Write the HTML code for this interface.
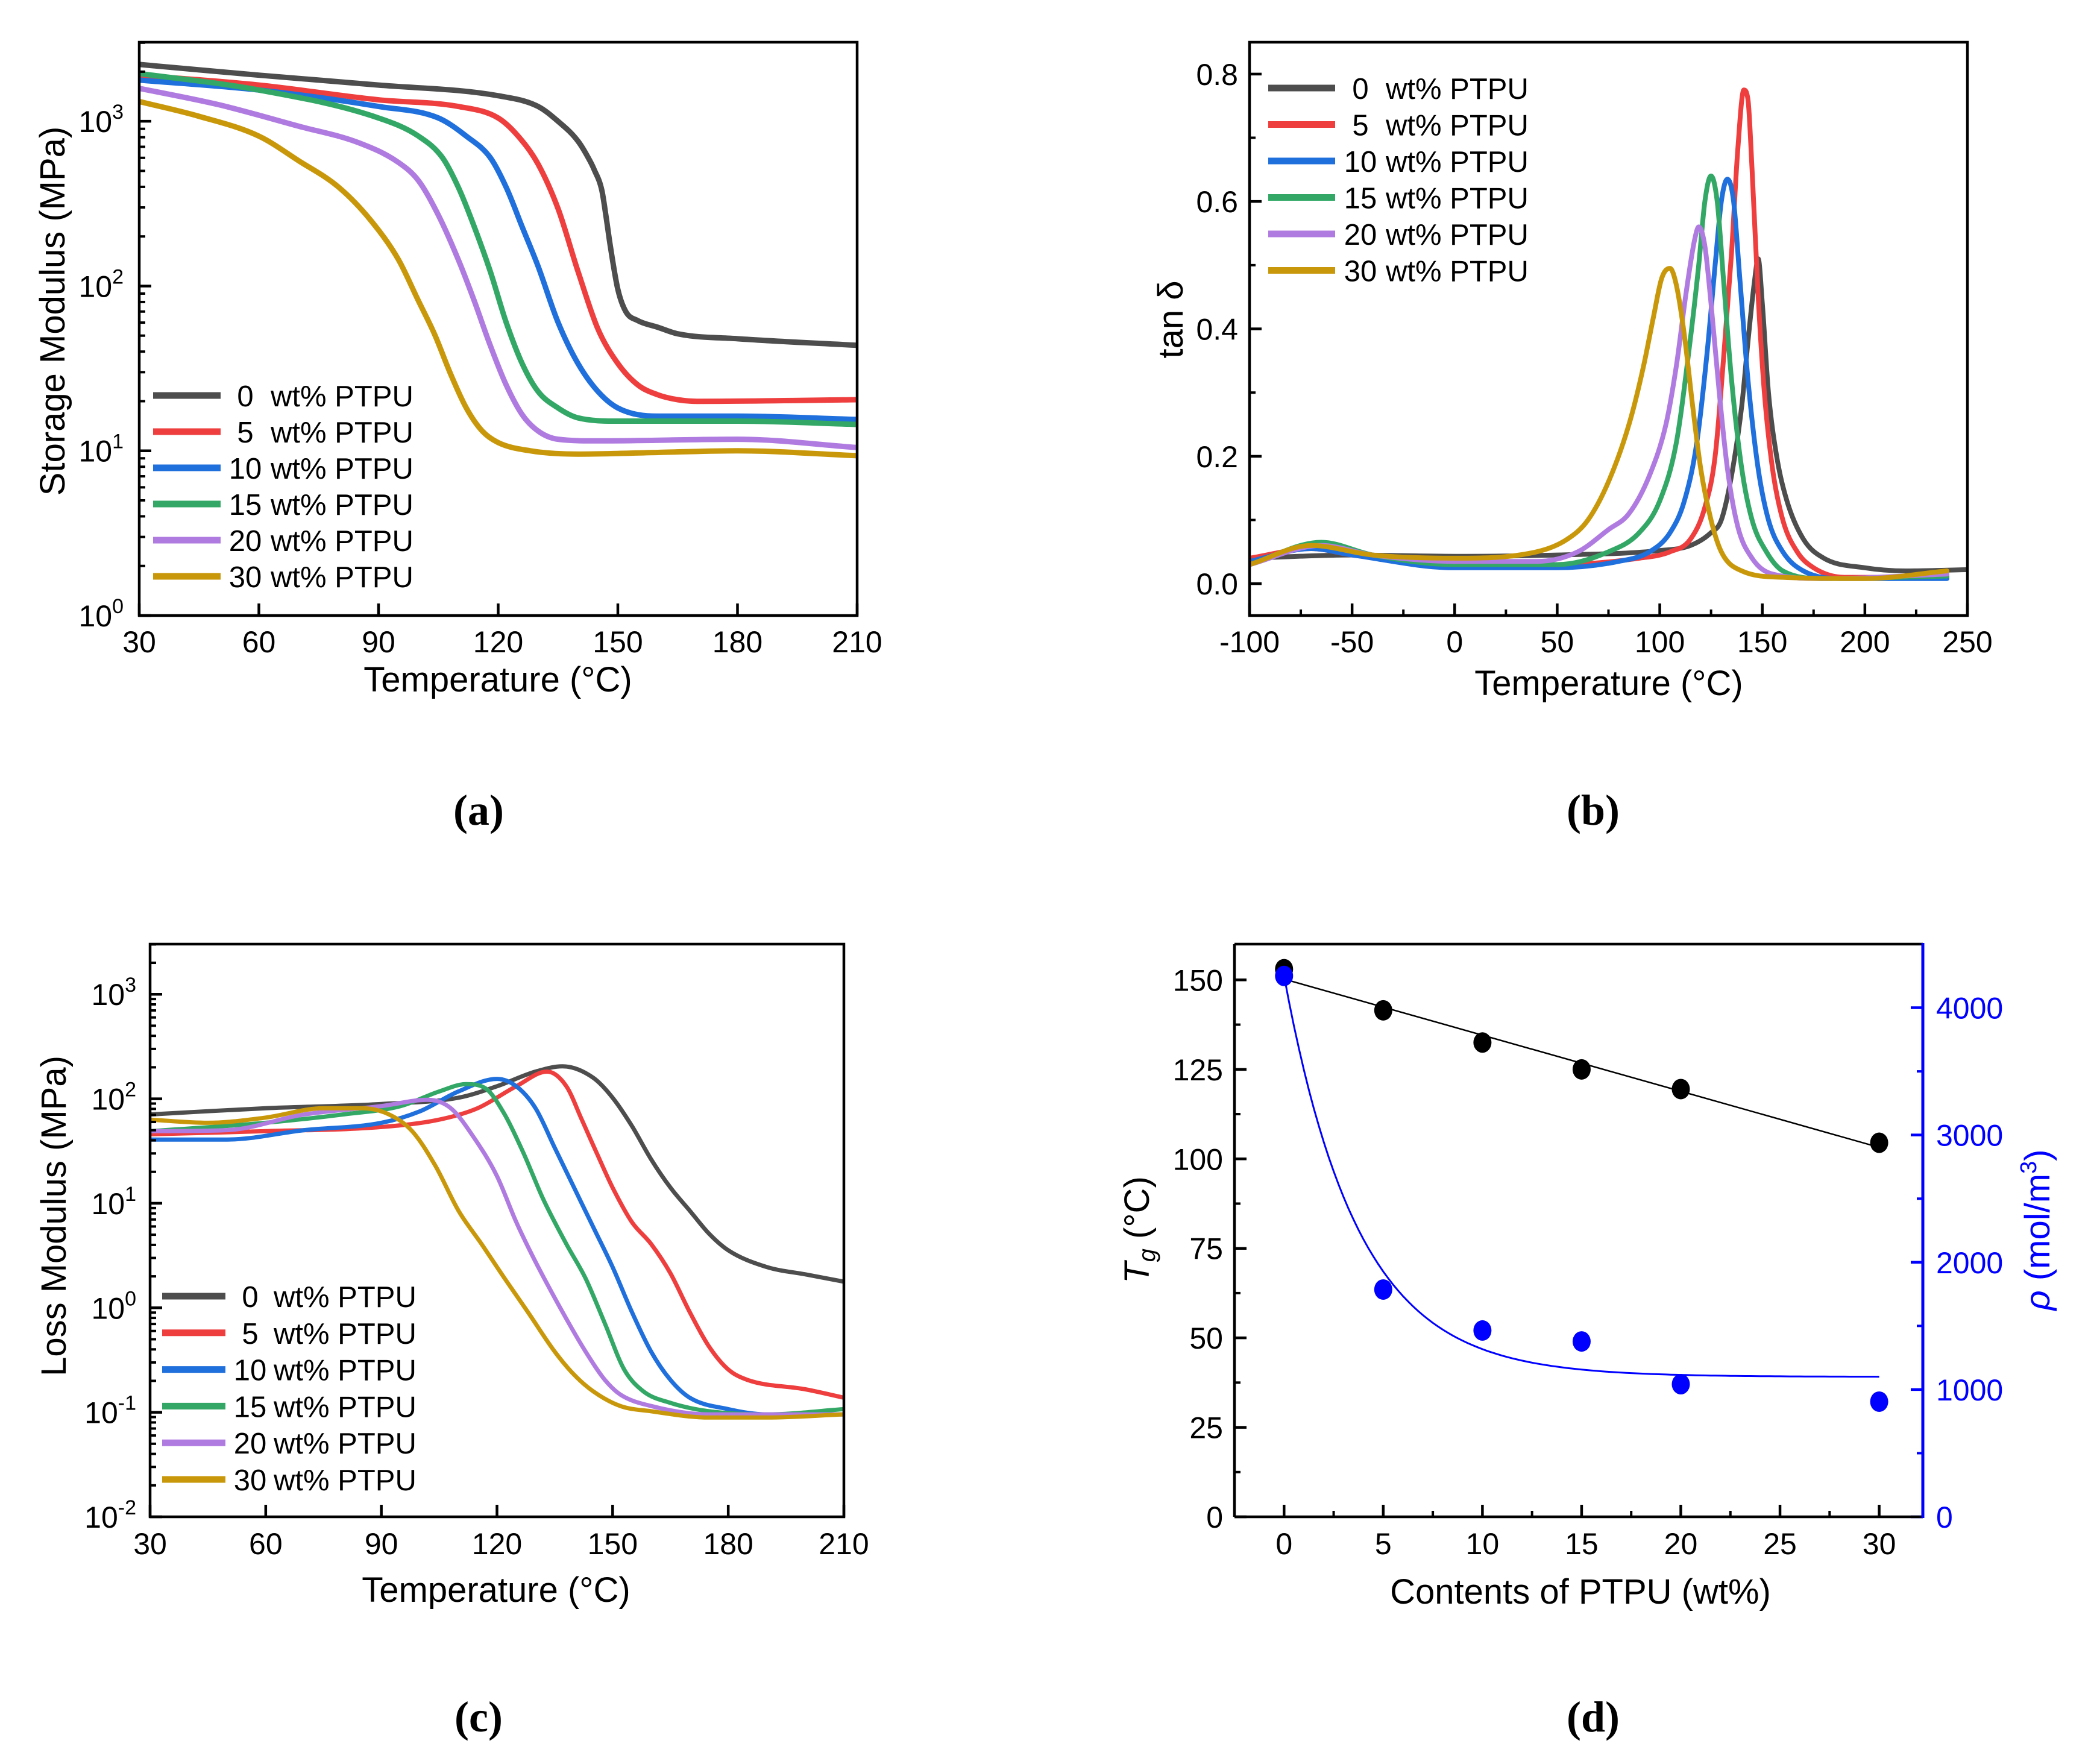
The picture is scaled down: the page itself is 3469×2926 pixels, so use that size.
<!DOCTYPE html>
<html><head><meta charset="utf-8"><style>
html,body{margin:0;padding:0;background:#fff;}
svg{display:block;}
text{font-family:"Liberation Sans",Arial,sans-serif;fill:#000;}
.lbl{font-family:"Liberation Serif",serif;font-weight:bold;}
</style></head><body>
<svg id="fig" width="3469" height="2926" viewBox="0 0 3469 2926" xmlns="http://www.w3.org/2000/svg"></svg>
<script>
// ---------- Data ----------
const seriesNames = ["0  wt% PTPU","5  wt% PTPU","10 wt% PTPU","15 wt% PTPU","20 wt% PTPU","30 wt% PTPU"];
const seriesNums = ["0","5","10","15","20","30"];
const seriesColors = ["#4d4d4d","#ee3e3e","#1f6fdc","#33a866","#b07be0","#c9980a"];

// (a) Storage modulus: temperatures and log10(MPa)
const aT0=[30,60,90,120,130,135,140,143,144,146,147,148,150,152,155,160,165,180,210];
const aV0=[3.345,3.28,3.22,3.155,3.09,3.0,2.88,2.76,2.71,2.58,2.43,2.26,1.98,1.845,1.79,1.75,1.71,1.68,1.64];
const aT1=[30,60,90,110,120,125,130,135,140,145,150,155,160,165,170,210];
const aV1=[3.28,3.22,3.13,3.09,3.02,2.91,2.74,2.47,2.09,1.74,1.53,1.40,1.34,1.31,1.30,1.31];
const aT2=[30,60,90,105,112,118,122,126,130,135,140,145,150,160,180,210];
const aV2=[3.25,3.19,3.09,3.02,2.91,2.78,2.60,2.36,2.12,1.78,1.53,1.36,1.26,1.21,1.21,1.19];
const aT3=[30,60,90,100,106,110,114,118,122,126,130,135,140,150,180,210];
const aV3=[3.29,3.19,3.02,2.91,2.78,2.60,2.36,2.09,1.78,1.53,1.36,1.26,1.20,1.18,1.18,1.16];
const aT4=[30,50,70,85,95,100,105,110,114,118,122,126,130,135,145,180,210];
const aV4=[3.20,3.10,2.97,2.87,2.75,2.64,2.43,2.16,1.91,1.64,1.40,1.22,1.12,1.07,1.06,1.07,1.02];
const aT5=[30,45,60,70,80,88,95,100,104,108,112,116,120,128,140,160,180,210];
const aV5=[3.12,3.03,2.91,2.76,2.60,2.40,2.16,1.91,1.71,1.47,1.26,1.12,1.05,1.0,0.98,0.99,1.0,0.97];

// (b) tan delta
const bT0=[-100,-50,0,50,100,115,125,130,135,140,143,146,148,150,153,157,162,170,180,200,220,250];
const bV0=[0.04,0.045,0.043,0.045,0.052,0.06,0.08,0.1,0.17,0.28,0.38,0.47,0.51,0.44,0.3,0.2,0.13,0.07,0.04,0.025,0.02,0.022];
const bT1=[-100,-70,-50,0,50,90,105,115,122,127,131,135,138,141,143,145,148,151,155,160,167,175,190,240];
const bV1=[0.04,0.055,0.045,0.03,0.03,0.04,0.05,0.07,0.12,0.2,0.35,0.52,0.68,0.775,0.76,0.65,0.45,0.3,0.18,0.1,0.05,0.025,0.01,0.01];
const bT2=[-100,-70,-50,0,50,80,95,105,112,118,123,127,130,133,136,139,143,148,153,160,170,190,240];
const bV2=[0.035,0.055,0.045,0.025,0.025,0.035,0.05,0.08,0.13,0.22,0.36,0.5,0.6,0.635,0.6,0.48,0.32,0.18,0.1,0.05,0.02,0.008,0.008];
const bT3=[-100,-65,-40,0,50,75,90,100,108,114,119,122,125,128,131,135,140,145,152,160,180,240];
const bV3=[0.03,0.065,0.045,0.03,0.03,0.05,0.08,0.13,0.22,0.36,0.5,0.6,0.64,0.6,0.48,0.32,0.18,0.1,0.05,0.02,0.008,0.012];
const bT4=[-100,-65,-40,0,40,60,75,85,95,103,108,113,117,119,122,125,129,133,138,145,155,180,240];
const bV4=[0.03,0.06,0.045,0.035,0.035,0.05,0.085,0.11,0.17,0.25,0.34,0.46,0.54,0.56,0.53,0.44,0.3,0.18,0.09,0.04,0.015,0.008,0.015];
const bT5=[-100,-70,-40,0,40,55,65,75,85,92,97,101,105,108,112,116,120,125,130,140,160,200,240];
const bV5=[0.03,0.06,0.045,0.04,0.05,0.07,0.1,0.16,0.25,0.34,0.42,0.48,0.495,0.47,0.39,0.28,0.18,0.1,0.05,0.02,0.01,0.008,0.02];

// (c) Loss modulus log10(MPa)
const cT0=[30,60,90,110,120,130,137,145,150,155,160,165,170,175,180,190,200,210];
const cV0=[1.85,1.91,1.95,2.01,2.12,2.26,2.31,2.20,2.01,1.74,1.42,1.15,0.93,0.71,0.55,0.39,0.32,0.25];
const cT1=[30,60,90,105,115,125,133,138,142,146,150,155,160,165,170,175,180,185,200,210];
const cV1=[1.66,1.69,1.73,1.80,1.91,2.12,2.26,2.12,1.80,1.47,1.15,0.82,0.61,0.33,-0.04,-0.37,-0.59,-0.69,-0.78,-0.86];
const cT2=[30,50,70,90,100,110,120,125,130,135,140,145,150,155,160,165,170,180,190,210];
const cV2=[1.61,1.61,1.70,1.77,1.88,2.07,2.19,2.12,1.91,1.53,1.15,0.77,0.39,-0.04,-0.42,-0.69,-0.86,-0.97,-1.02,-1.02];
const cT3=[30,60,80,95,105,112,117,122,127,132,138,143,148,153,158,165,175,190,210];
const cV3=[1.69,1.77,1.85,1.93,2.07,2.14,2.10,1.85,1.47,1.04,0.61,0.28,-0.15,-0.59,-0.80,-0.91,-0.99,-1.02,-0.97];
const cT4=[30,50,70,90,102,108,114,120,125,130,137,143,148,152,160,175,210];
const cV4=[1.69,1.70,1.85,1.93,1.99,1.91,1.63,1.26,0.82,0.44,-0.04,-0.42,-0.69,-0.83,-0.94,-1.02,-1.02];
const cT5=[30,45,60,75,85,92,98,104,110,116,122,128,135,140,145,152,160,175,190,210];
const cV5=[1.80,1.77,1.82,1.91,1.91,1.85,1.69,1.36,0.93,0.61,0.28,-0.04,-0.42,-0.64,-0.80,-0.94,-0.99,-1.05,-1.05,-1.02];

// (d) Tg and crosslink density
const dContent=[0,5,10,15,20,30];
const dTg=[153,141.5,132.5,125,119.5,104.5];
const dRho=[4250,1786,1464,1378,1042,905];
const rhoFitA=1100, rhoFitB=3150, rhoFitT=3.74;

// ticks
const aXTicks=[30,60,90,120,150,180,210];
const aYDecades=[0,1,2,3];
const bXTicks=[-100,-50,0,50,100,150,200,250];
const bYTicks=[0,0.2,0.4,0.6,0.8];
const cXTicks=[30,60,90,120,150,180,210];
const cYDecades=[-2,-1,0,1,2,3];
const dXTicks=[0,5,10,15,20,25,30];
const dYTicks=[0,25,50,75,100,125,150];
const dY2Ticks=[0,1000,2000,3000,4000];

const aT=[aT0,aT1,aT2,aT3,aT4,aT5], aV=[aV0,aV1,aV2,aV3,aV4,aV5];
const bT=[bT0,bT1,bT2,bT3,bT4,bT5], bV=[bV0,bV1,bV2,bV3,bV4,bV5];
const cT=[cT0,cT1,cT2,cT3,cT4,cT5], cV=[cV0,cV1,cV2,cV3,cV4,cV5];

// ---------- Drawing ----------
const NS="http://www.w3.org/2000/svg";
const svg=document.getElementById('fig');
function mk(tag,attrs,parent){const e=document.createElementNS(NS,tag);for(const k in attrs)e.setAttribute(k,attrs[k]);(parent||svg).appendChild(e);return e;}
function scale(d0,d1,r0,r1){return v=>r0+(v-d0)/(d1-d0)*(r1-r0);}
// monotone cubic (Fritsch-Carlson) path in pixel space, x increasing
function smoothPath(pts){
  const n=pts.length;
  const dx=[],dy=[],m=[];
  for(let i=0;i<n-1;i++){dx[i]=pts[i+1][0]-pts[i][0];dy[i]=pts[i+1][1]-pts[i][1];m[i]=dy[i]/dx[i];}
  const t=[m[0]];
  for(let i=1;i<n-1;i++){t[i]=(m[i-1]*m[i]<=0)?0:(m[i-1]+m[i])/2;}
  t[n-1]=m[n-2];
  for(let i=0;i<n-1;i++){
    if(m[i]===0){t[i]=0;t[i+1]=0;continue;}
    const a=t[i]/m[i],b=t[i+1]/m[i],s=a*a+b*b;
    if(s>9){const k=3/Math.sqrt(s);t[i]=k*a*m[i];t[i+1]=k*b*m[i];}
  }
  let d="M"+pts[0][0].toFixed(1)+","+pts[0][1].toFixed(1);
  for(let i=0;i<n-1;i++){
    const h=dx[i]/3;
    d+=" C"+(pts[i][0]+h).toFixed(1)+","+(pts[i][1]+t[i]*h).toFixed(1)+" "+(pts[i+1][0]-h).toFixed(1)+","+(pts[i+1][1]-t[i+1]*h).toFixed(1)+" "+pts[i+1][0].toFixed(1)+","+pts[i+1][1].toFixed(1);
  }
  return d;
}
function txt(x,y,s,size,anchor,parent,extra){
  const t=mk('text',Object.assign({x:x,y:y,'font-size':size,'text-anchor':anchor||'middle'},extra||{}),parent);
  t.textContent=s;return t;
}
function logLabel(g,x,y,exp,name){
  const t=mk('text',{x:x,y:y,'font-size':50,'text-anchor':'end'},g);
  
  
  const a=mk('tspan',{},t);a.textContent="10";
  const b=mk('tspan',{dy:-22,'font-size':34},t);b.textContent=String(exp);
  return t;
}
function box(g,x0,y0,x1,y1,name){
  const r=mk('rect',{x:x0,y:y0,width:x1-x0,height:y1-y0,fill:'none',stroke:'#000','stroke-width':4.5},g);
  
  
}
function legend(g,x0,x1,numX,restX,y0,dy){
  const lg=mk('g',{},g);
  
  
  for(let i=0;i<6;i++){
    const y=y0+i*dy;
    const e=mk('g',{},lg);
    
    
    mk('line',{x1:x0,y1:y,x2:x1,y2:y,stroke:seriesColors[i],'stroke-width':11},e);
    txt(numX,y+18,seriesNums[i],49,'middle',e);
    txt(restX,y+18,"wt% PTPU",49,'start',e);
  }
}
function drawSeries(g,Ts,Vs,sx,sy,width,prefix,clipId){
  for(let i=0;i<6;i++){
    const pts=Ts[i].map((t,j)=>[sx(t),sy(Vs[i][j])]);
    const p=mk('path',{d:smoothPath(pts),fill:'none',stroke:seriesColors[i],'stroke-width':width,'stroke-linejoin':'round','stroke-linecap':'round','clip-path':'url(#'+clipId+')'},g);
    
    
  }
}
const defs=mk('defs',{});
function clip(id,x0,y0,x1,y1){const c=mk('clipPath',{id:id},defs);mk('rect',{x:x0,y:y0,width:x1-x0,height:y1-y0},c);}

// ===== Panel (a) =====
(function(){
  const X0=231,X1=1422,Y0=70,Y1=1021;
  const g=mk('g',{});
  const sx=scale(30,210,X0,X1), sy=scale(0,3.48,Y1,Y0);
  clip('ca',X0,Y0,X1,Y1);
  drawSeries(g,aT,aV,sx,sy,9,'storage','ca');
  aXTicks.forEach(t=>{mk('line',{x1:sx(t),y1:Y1,x2:sx(t),y2:Y1-20,stroke:'#000','stroke-width':4.5},g);
    const l=txt(sx(t),1082,String(t),50,'middle',g);});
  for(let d=0;d<=3;d++){for(let m=2;m<=9;m++){const v=d+Math.log10(m);if(v<=3.48)mk('line',{x1:X0,y1:sy(v),x2:X0+10,y2:sy(v),stroke:'#000','stroke-width':4},g);}}
  aYDecades.forEach(e=>{mk('line',{x1:X0,y1:sy(e),x2:X0+20,y2:sy(e),stroke:'#000','stroke-width':4.5},g);
    logLabel(g,205,sy(e)+18,e,'y-tick-label');});
  box(g,X0,Y0,X1,Y1,'plot-frame');
  legend(g,254,366,407,449,656,60);
  const xt=txt(826,1147,"Temperature (\u00B0C)",58,'middle',g);
  const yt=txt(0,0,"Storage Modulus (MPa)",58,'middle',g,{transform:'translate(107,516) rotate(-90)'});
  const pl=txt(794,1368,"(a)",72,'middle',g,{class:'lbl'});
})();

// ===== Panel (b) =====
(function(){
  const X0=2073,X1=3264,Y0=70,Y1=1021;
  const g=mk('g',{});
  const sx=scale(-100,250,X0,X1), sy=scale(-0.05,0.85,Y1,Y0);
  clip('cb',X0,Y0,X1,Y1);
  drawSeries(g,bT,bV,sx,sy,8,'tan-delta','cb');
  for(let t=-75;t<250;t+=50)mk('line',{x1:sx(t),y1:Y1,x2:sx(t),y2:Y1-10,stroke:'#000','stroke-width':4},g);
  bXTicks.forEach(t=>{mk('line',{x1:sx(t),y1:Y1,x2:sx(t),y2:Y1-20,stroke:'#000','stroke-width':4.5},g);
    const l=txt(sx(t),1082,t<0?"-"+Math.abs(t):String(t),50,'middle',g);});
  for(let v=0.1;v<0.85;v+=0.2)mk('line',{x1:X0,y1:sy(v),x2:X0+10,y2:sy(v),stroke:'#000','stroke-width':4},g);
  bYTicks.forEach(v=>{mk('line',{x1:X0,y1:sy(v),x2:X0+20,y2:sy(v),stroke:'#000','stroke-width':4.5},g);
    const l=txt(2054,sy(v)+18,v.toFixed(1),50,'end',g);});
  box(g,X0,Y0,X1,Y1,'plot-frame');
  legend(g,2104,2215,2257,2299,146,60.5);
  const xt=txt(2669,1153,"Temperature (\u00B0C)",58,'middle',g);
  const yt=txt(0,0,"tan \u03B4",58,'middle',g,{transform:'translate(1962,530) rotate(-90)'});
  const pl=txt(2643,1368,"(b)",72,'middle',g,{class:'lbl'});
})();

// ===== Panel (c) =====
(function(){
  const X0=249,X1=1400,Y0=1566,Y1=2516;
  const g=mk('g',{});
  const sx=scale(30,210,X0,X1), sy=scale(-2,3.48,Y1,Y0);
  clip('cc',X0,Y0,X1,Y1);
  drawSeries(g,cT,cV,sx,sy,7,'loss','cc');
  cXTicks.forEach(t=>{mk('line',{x1:sx(t),y1:Y1,x2:sx(t),y2:Y1-20,stroke:'#000','stroke-width':4.5},g);
    const l=txt(sx(t),2578,String(t),50,'middle',g);});
  for(let d=-2;d<=3;d++){for(let m=2;m<=9;m++){const v=d+Math.log10(m);if(v<=3.48)mk('line',{x1:X0,y1:sy(v),x2:X0+10,y2:sy(v),stroke:'#000','stroke-width':4},g);}}
  cYDecades.forEach(e=>{mk('line',{x1:X0,y1:sy(e),x2:X0+20,y2:sy(e),stroke:'#000','stroke-width':4.5},g);
    logLabel(g,226,sy(e)+18,e,'y-tick-label');});
  box(g,X0,Y0,X1,Y1,'plot-frame');
  legend(g,269,374,415,454,2150,60.8);
  const xt=txt(823,2657,"Temperature (\u00B0C)",58,'middle',g);
  const yt=txt(0,0,"Loss Modulus (MPa)",58,'middle',g,{transform:'translate(109,2017) rotate(-90)'});
  const pl=txt(794,2872,"(c)",72,'middle',g,{class:'lbl'});
})();

// ===== Panel (d) =====
(function(){
  const X0=2048,X1=3190,Y0=1566,Y1=2516;
  const g=mk('g',{});
  const sx=scale(-2.5,32.2,X0,X1), sy=scale(0,160,Y1,Y0), sy2=scale(0,4500,Y1,Y0);
  for(let t=2.5;t<32;t+=5)mk('line',{x1:sx(t),y1:Y1,x2:sx(t),y2:Y1-10,stroke:'#000','stroke-width':4},g);
  dXTicks.forEach(t=>{mk('line',{x1:sx(t),y1:Y1,x2:sx(t),y2:Y1-20,stroke:'#000','stroke-width':4.5},g);
    const l=txt(sx(t),2578,String(t),50,'middle',g);});
  for(let v=12.5;v<160;v+=25)mk('line',{x1:X0,y1:sy(v),x2:X0+10,y2:sy(v),stroke:'#000','stroke-width':4},g);
  dYTicks.forEach(v=>{mk('line',{x1:X0,y1:sy(v),x2:X0+20,y2:sy(v),stroke:'#000','stroke-width':4.5},g);
    const l=txt(2029,sy(v)+18,String(v),50,'end',g);});
  for(let v=500;v<4500;v+=1000)mk('line',{x1:X1,y1:sy2(v),x2:X1-10,y2:sy2(v),stroke:'#0000ff','stroke-width':4},g);
  dY2Ticks.forEach(v=>{mk('line',{x1:X1,y1:sy2(v),x2:X1-20,y2:sy2(v),stroke:'#0000ff','stroke-width':4.5},g);
    const l=txt(3212,sy2(v)+18,String(v),50,'start',g,{style:'fill:#0000ff'});});
  mk('line',{x1:X0,y1:Y0,x2:X1,y2:Y0,stroke:'#000','stroke-width':4.5},g);
  mk('line',{x1:X0,y1:Y1,x2:X1,y2:Y1,stroke:'#000','stroke-width':4.5},g);
  mk('line',{x1:X0,y1:Y0,x2:X0,y2:Y1,stroke:'#000','stroke-width':4.5},g);
  const ra=mk('line',{x1:X1,y1:Y0-2,x2:X1,y2:Y1+2,stroke:'#0000ff','stroke-width':5},g);
  
  const n=dContent.length;let mx=0,my=0;dContent.forEach((x,i)=>{mx+=x;my+=dTg[i];});mx/=n;my/=n;
  let sxy=0,sxx=0;dContent.forEach((x,i)=>{sxy+=(x-mx)*(dTg[i]-my);sxx+=(x-mx)*(x-mx);});
  const slope=sxy/sxx, icpt=my-slope*mx;
  const fl=mk('line',{x1:sx(0),y1:sy(icpt),x2:sx(30),y2:sy(icpt+slope*30),stroke:'#000','stroke-width':2.5},g);
  
  const cp=[];for(let x=0;x<=30;x+=0.25)cp.push([sx(x),sy2(rhoFitA+rhoFitB*Math.exp(-x/rhoFitT))]);
  const fc=mk('path',{d:"M"+cp.map(p=>p[0].toFixed(1)+","+p[1].toFixed(1)).join(" L"),fill:'none',stroke:'#0000ff','stroke-width':3},g);
  
  dContent.forEach((x,i)=>{
    const p=mk('ellipse',{cx:sx(x),cy:sy(dTg[i]),rx:15,ry:17,fill:'#000'},g);
    
  });
  dContent.forEach((x,i)=>{
    const p=mk('ellipse',{cx:sx(x),cy:sy2(dRho[i]),rx:15,ry:17,fill:'#0000ff'},g);
    
  });
  const xt=txt(2622,2660,"Contents of PTPU (wt%)",58,'middle',g);
  const yt=mk('text',{'font-size':58,'text-anchor':'middle',transform:'translate(1906,2040) rotate(-90)'},g);
  
  let s=mk('tspan',{'font-style':'italic'},yt);s.textContent="T";
  s=mk('tspan',{'font-style':'italic','font-size':40,dy:10},yt);s.textContent="g";
  s=mk('tspan',{dy:-10},yt);s.textContent=" (\u00B0C)";
  const y2=mk('text',{'font-size':58,'text-anchor':'middle',transform:'translate(3400,2040) rotate(-90)',style:'fill:#0000ff'},g);
  
  s=mk('tspan',{'font-style':'italic'},y2);s.textContent="\u03C1";
  s=mk('tspan',{},y2);s.textContent=" (mol/m";
  s=mk('tspan',{'font-size':38,dy:-22},y2);s.textContent="3";
  s=mk('tspan',{dy:22},y2);s.textContent=")";
  const pl=txt(2643,2872,"(d)",72,'middle',g,{class:'lbl'});
})();
</script>
</body></html>
